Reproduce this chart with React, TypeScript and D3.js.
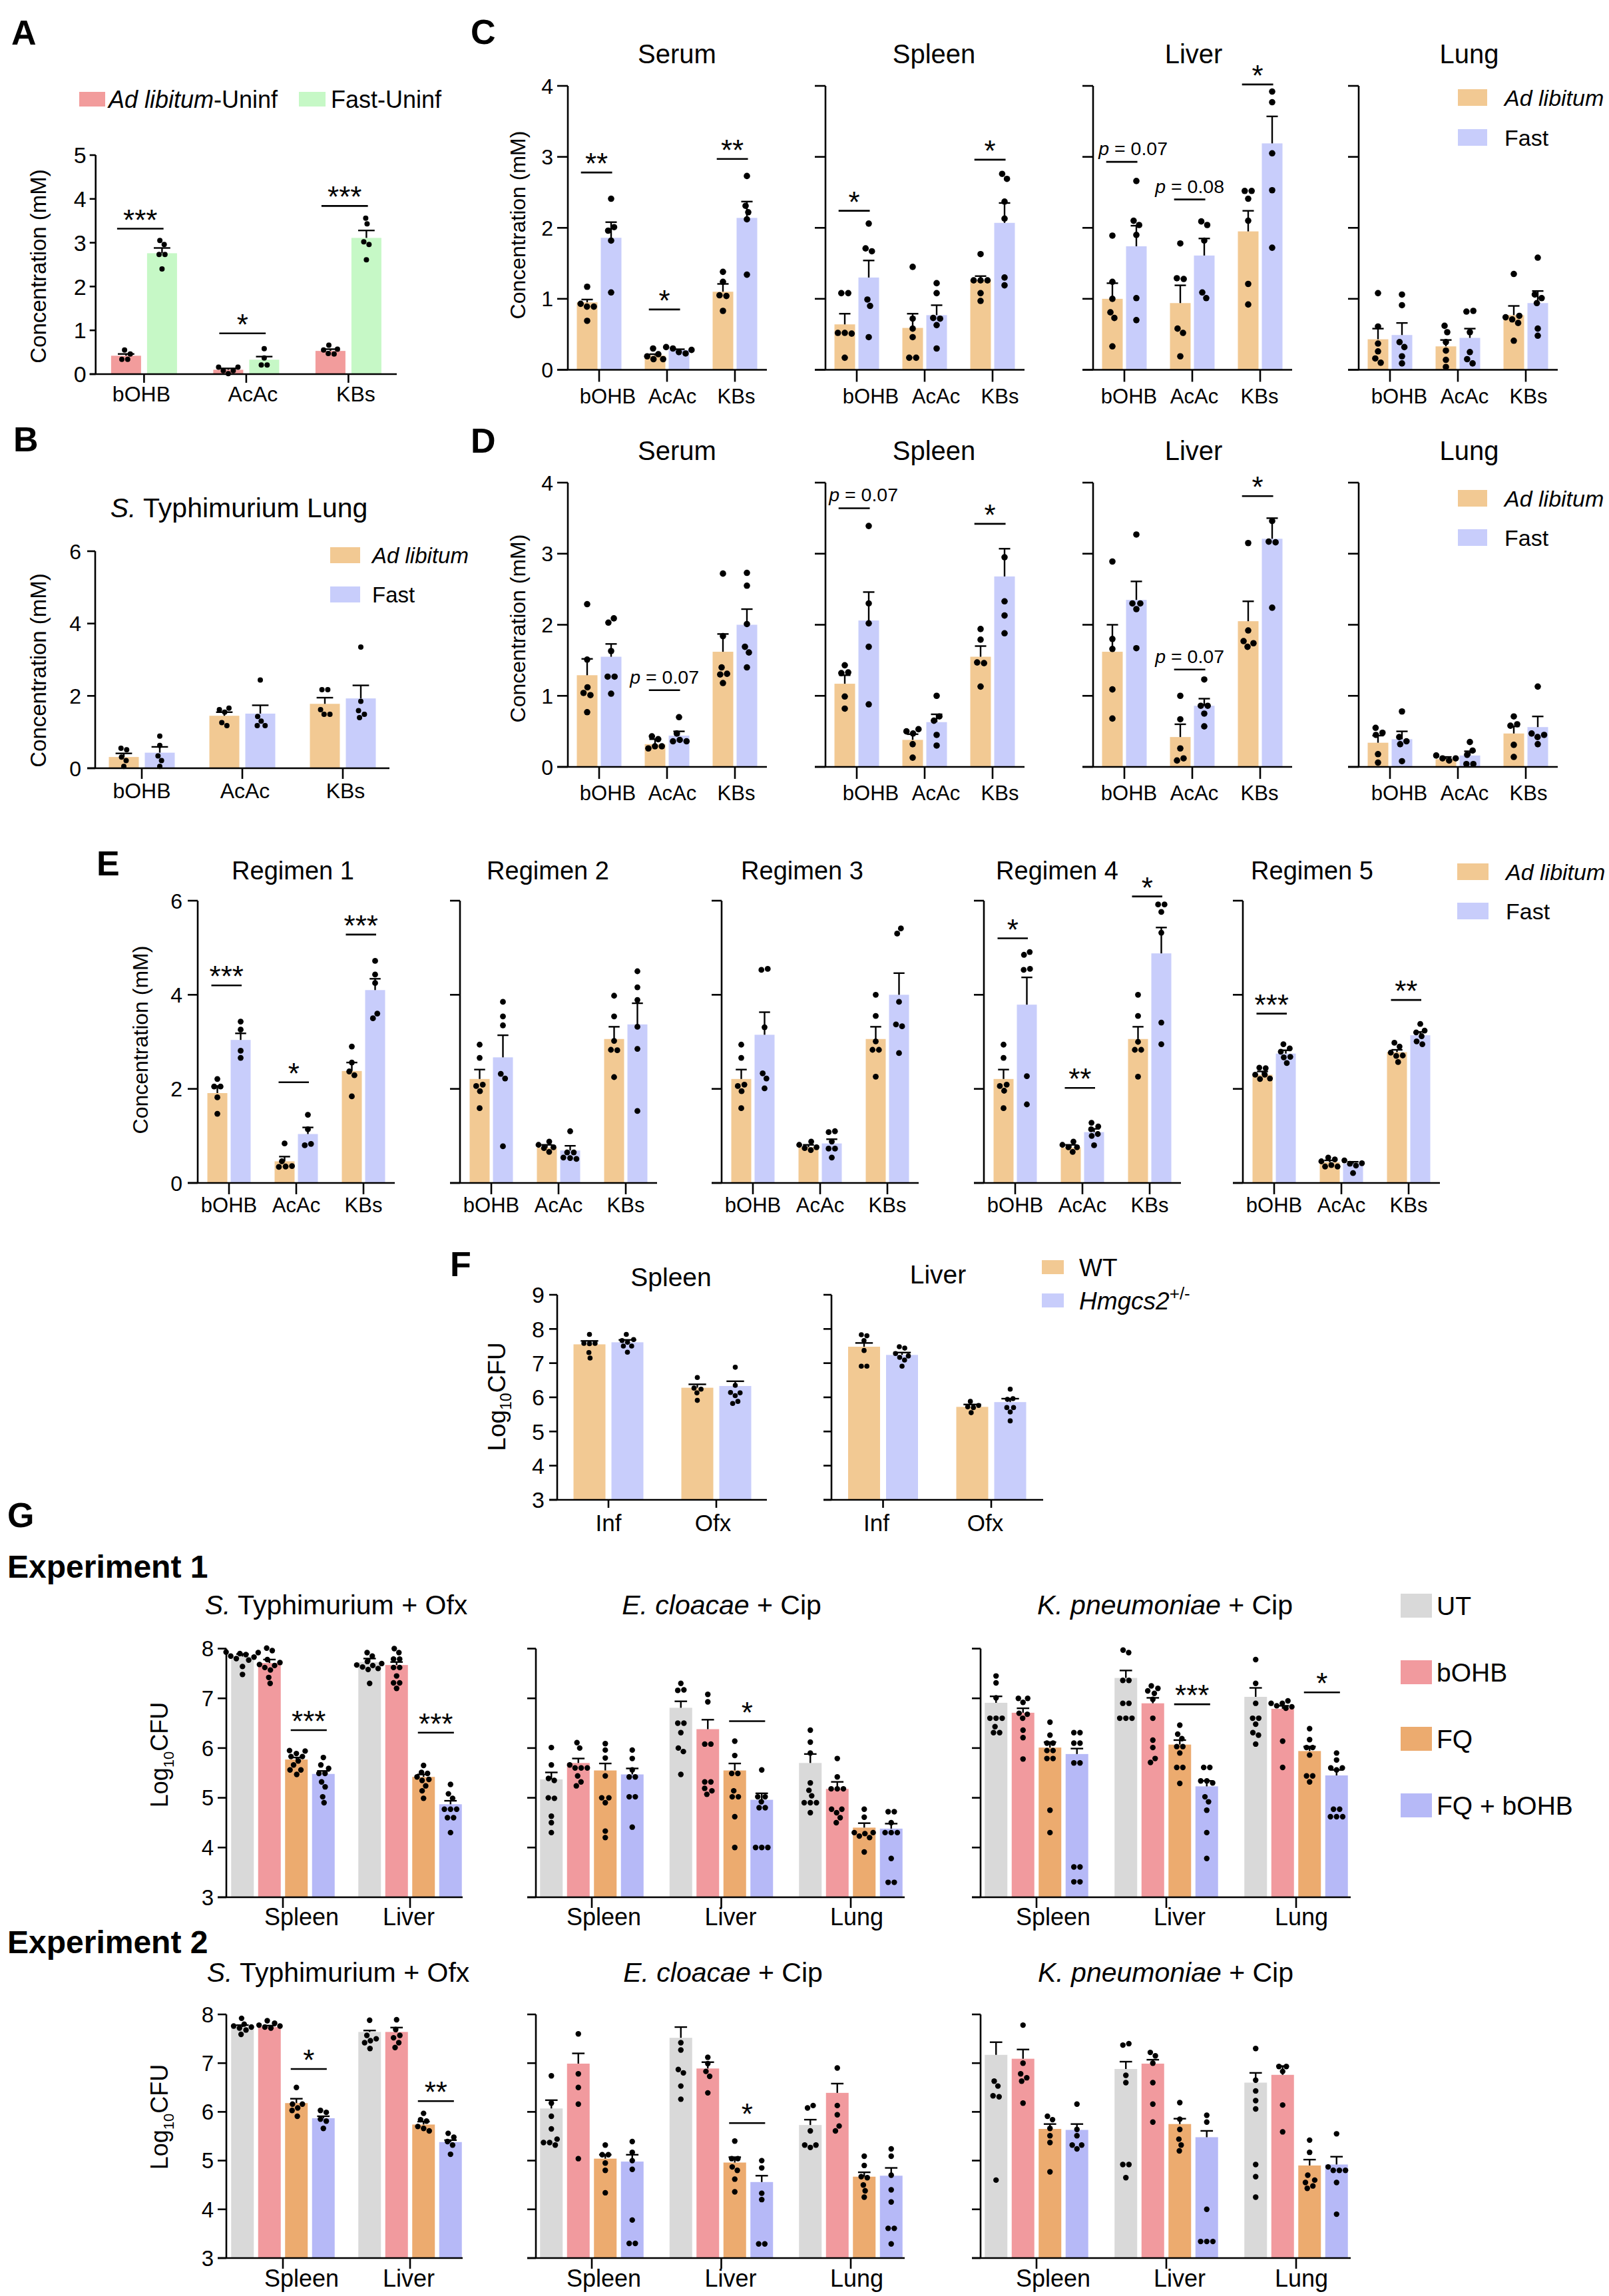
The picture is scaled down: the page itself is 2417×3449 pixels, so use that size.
import React from "react";
import * as d3 from "d3";

// [mean, sem, replicate values]
type Bar = [number, number, number[]];
type Sig = { cat: number; y: number; label: string; dx?: number };

const FONT = "'Liberation Sans', Arial, Helvetica, sans-serif";

const KETONES = ["bOHB", "AcAc", "KBs"];
const ORGANS2 = ["Spleen", "Liver"];
const ORGANS3 = ["Spleen", "Liver", "Lung"];
const F_CATS = ["Inf", "Ofx"];

const COL_AL_UNINF = "#F29C9C";
const COL_FAST_UNINF = "#C6F8C6";
const COL_ADLIB = "#F2C993";
const COL_FAST = "#C8CDFB";
const COL_UT = "#D9D9D9";
const COL_BOHB = "#F19A9E";
const COL_FQ = "#ECAB6F";
const COL_FQB = "#B6B9F7";

// ---------- Panel A: uninfected serum ----------
const A_ADLIB: Bar[] = [
  [0.42, 0.04, [0.34, 0.55, 0.46, 0.34]],
  [0.1, 0.03, [0.16, 0.16, 0.08, 0.08, 0.01]],
  [0.53, 0.04, [0.66, 0.57, 0.55, 0.46, 0.47]],
];
const A_FAST: Bar[] = [
  [2.76, 0.12, [3.05, 2.96, 2.73, 2.73, 2.4]],
  [0.33, 0.07, [0.58, 0.37, 0.21, 0.21]],
  [3.11, 0.17, [3.56, 3.43, 3.02, 2.96, 2.61]],
];
const A_SIG: Sig[] = [
  { cat: 0, y: 3.32, label: "***" },
  { cat: 1, y: 0.93, label: "*" },
  { cat: 2, y: 3.84, label: "***" },
];

// ---------- Panel B: S. Typhimurium lung ----------
const B_ADLIB: Bar[] = [
  [0.31, 0.1, [0.55, 0.51, 0.31, 0.21, 0.05]],
  [1.45, 0.1, [1.62, 1.66, 1.55, 1.26, 1.18]],
  [1.78, 0.17, [2.17, 2.17, 1.62, 1.49, 1.49]],
];
const B_FAST: Bar[] = [
  [0.43, 0.16, [0.89, 0.63, 0.34, 0.21, 0.05]],
  [1.51, 0.23, [2.44, 1.43, 1.18, 1.18, 1.3]],
  [1.93, 0.36, [3.35, 1.85, 1.59, 1.49, 1.4]],
];

// ---------- Panel C ----------
const C_SERUM_AL: Bar[] = [
  [0.95, 0.04, [1.17, 0.93, 0.89, 0.89, 0.69]],
  [0.2, 0.02, [0.3, 0.22, 0.19, 0.15, 0.15]],
  [1.1, 0.11, [1.38, 1.24, 1.05, 1.04, 0.83]],
];
const C_SERUM_FAST: Bar[] = [
  [1.86, 0.22, [2.41, 1.96, 2.01, 1.82, 1.09]],
  [0.28, 0.01, [0.32, 0.28, 0.3, 0.23, 0.25]],
  [2.14, 0.23, [2.73, 2.31, 2.22, 2.12, 1.34]],
];
const C_SERUM_SIG: Sig[] = [
  { cat: 0, y: 2.78, label: "**" },
  { cat: 1, y: 0.85, label: "*" },
  { cat: 2, y: 2.97, label: "**" },
];
const C_SPLEEN_AL: Bar[] = [
  [0.64, 0.15, [1.08, 1.08, 0.52, 0.51, 0.52, 0.17]],
  [0.59, 0.2, [1.45, 0.72, 0.58, 0.46, 0.17, 0.17]],
  [1.26, 0.06, [1.63, 1.26, 1.26, 1.26, 1.08, 0.97]],
];
const C_SPLEEN_FAST: Bar[] = [
  [1.3, 0.24, [2.06, 1.71, 1.67, 0.99, 0.9, 0.46]],
  [0.77, 0.14, [1.22, 1.08, 0.73, 0.72, 0.63, 0.3]],
  [2.07, 0.28, [2.76, 2.69, 2.37, 2.13, 1.3, 1.19]],
];
const C_SPLEEN_SIG: Sig[] = [
  { cat: 0, y: 2.24, label: "*" },
  { cat: 2, y: 2.96, label: "*" },
];
const C_LIVER_AL: Bar[] = [
  [1.0, 0.22, [1.89, 1.24, 1.0, 0.81, 0.73, 0.33]],
  [0.94, 0.25, [1.78, 1.29, 1.28, 0.58, 0.52, 0.19]],
  [1.95, 0.29, [2.52, 2.52, 2.41, 2.1, 1.21, 0.92]],
];
const C_LIVER_FAST: Bar[] = [
  [1.74, 0.29, [2.66, 2.1, 2.04, 1.9, 1.01, 0.7]],
  [1.61, 0.24, [2.09, 2.04, 1.82, 1.09, 1.01]],
  [3.19, 0.38, [3.92, 3.77, 3.05, 2.53, 1.72]],
];
const C_LIVER_SIG: Sig[] = [
  { cat: 0, y: 2.93, label: "p = 0.07", dx: 17 },
  { cat: 1, y: 2.4, label: "p = 0.08" },
  { cat: 2, y: 4.02, label: "*" },
];
const C_LUNG_AL: Bar[] = [
  [0.43, 0.15, [1.08, 0.61, 0.37, 0.26, 0.16, 0.1]],
  [0.33, 0.09, [0.62, 0.53, 0.39, 0.27, 0.14, 0.04]],
  [0.77, 0.13, [1.35, 0.74, 0.76, 0.71, 0.66, 0.41]],
];
const C_LUNG_FAST: Bar[] = [
  [0.49, 0.17, [1.06, 0.91, 0.39, 0.32, 0.19, 0.09]],
  [0.45, 0.13, [0.82, 0.83, 0.53, 0.25, 0.15, 0.09]],
  [0.94, 0.17, [1.58, 1.06, 1.01, 0.94, 0.58, 0.48]],
];

// ---------- Panel D ----------
const D_SERUM_AL: Bar[] = [
  [1.29, 0.23, [2.29, 1.51, 1.04, 1.01, 1.12, 0.77]],
  [0.32, 0.07, [0.43, 0.39, 0.26, 0.29, 0.29]],
  [1.62, 0.25, [2.72, 1.84, 1.4, 1.31, 1.3, 1.18]],
];
const D_SERUM_FAST: Bar[] = [
  [1.55, 0.18, [2.03, 2.09, 1.63, 1.27, 1.27, 1.03]],
  [0.44, 0.06, [0.7, 0.47, 0.36, 0.36, 0.38]],
  [2.0, 0.22, [2.73, 2.55, 2.01, 1.69, 1.61, 1.4]],
];
const D_SERUM_SIG: Sig[] = [{ cat: 1, y: 1.08, label: "p = 0.07" }];
const D_SPLEEN_AL: Bar[] = [
  [1.17, 0.12, [1.43, 1.32, 1.33, 0.99, 0.82]],
  [0.38, 0.08, [0.5, 0.53, 0.47, 0.32, 0.13]],
  [1.55, 0.15, [1.94, 1.79, 1.47, 1.46, 1.13]],
];
const D_SPLEEN_FAST: Bar[] = [
  [2.06, 0.4, [3.39, 2.3, 2.02, 1.69, 0.88]],
  [0.63, 0.11, [1.0, 0.65, 0.71, 0.45, 0.3]],
  [2.68, 0.39, [2.95, 2.33, 2.13, 1.88]],
];
const D_SPLEEN_SIG: Sig[] = [
  { cat: 0, y: 3.64, label: "p = 0.07", dx: 14 },
  { cat: 2, y: 3.42, label: "*" },
];
const D_LIVER_AL: Bar[] = [
  [1.62, 0.38, [2.89, 1.8, 1.66, 1.09, 0.68]],
  [0.42, 0.18, [1.0, 0.67, 0.26, 0.09, 0.12]],
  [2.05, 0.28, [3.15, 1.92, 1.77, 1.74, 1.69]],
];
const D_LIVER_FAST: Bar[] = [
  [2.35, 0.26, [3.27, 2.3, 2.3, 2.22, 1.67]],
  [0.86, 0.1, [1.23, 0.86, 0.86, 0.75, 0.57]],
  [3.21, 0.29, [3.46, 3.17, 3.16, 2.24]],
];
const D_LIVER_SIG: Sig[] = [
  { cat: 1, y: 1.37, label: "p = 0.07" },
  { cat: 2, y: 3.81, label: "*" },
];
const D_LUNG_AL: Bar[] = [
  [0.34, 0.1, [0.55, 0.48, 0.45, 0.18, 0.06]],
  [0.11, 0.03, [0.16, 0.12, 0.12, 0.09]],
  [0.47, 0.1, [0.71, 0.58, 0.6, 0.31, 0.14]],
];
const D_LUNG_FAST: Bar[] = [
  [0.39, 0.11, [0.78, 0.42, 0.36, 0.32, 0.08]],
  [0.16, 0.06, [0.35, 0.17, 0.23, 0.04, 0.04]],
  [0.56, 0.15, [1.13, 0.47, 0.45, 0.42, 0.32]],
];

// ---------- Panel E: fasting regimens ----------
const E_R1_AL: Bar[] = [
  [1.91, 0.15, [2.21, 2.05, 2.05, 1.82, 1.47]],
  [0.46, 0.1, [0.84, 0.46, 0.36, 0.34, 0.35]],
  [2.38, 0.18, [2.9, 2.56, 2.37, 2.29, 1.84]],
];
const E_R1_FAST: Bar[] = [
  [3.04, 0.14, [3.43, 3.26, 2.81, 2.66]],
  [1.04, 0.14, [1.45, 1.14, 0.8, 0.83]],
  [4.1, 0.24, [4.72, 4.43, 4.25, 3.5, 3.6]],
];
const E_R1_SIG: Sig[] = [
  { cat: 0, y: 4.2, label: "***" },
  { cat: 1, y: 2.14, label: "*" },
  { cat: 2, y: 5.28, label: "***" },
];
const E_R2_AL: Bar[] = [
  [2.21, 0.2, [2.94, 2.66, 2.06, 2.09, 1.95, 1.59]],
  [0.75, 0.06, [0.81, 0.88, 0.76, 0.74, 0.66]],
  [3.06, 0.26, [3.98, 3.54, 3.02, 2.83, 2.82, 2.25]],
];
const E_R2_FAST: Bar[] = [
  [2.67, 0.47, [3.85, 3.54, 3.35, 2.32, 2.22, 0.78]],
  [0.69, 0.1, [1.1, 0.65, 0.65, 0.54, 0.51, 0.53]],
  [3.37, 0.45, [4.5, 4.16, 3.89, 3.32, 2.85, 1.53]],
];
const E_R3_AL: Bar[] = [
  [2.21, 0.2, [2.94, 2.66, 2.06, 2.09, 1.95, 1.59]],
  [0.76, 0.05, [0.81, 0.88, 0.76, 0.74, 0.7]],
  [3.06, 0.26, [4.0, 3.55, 3.01, 2.83, 2.83, 2.26]],
];
const E_R3_FAST: Bar[] = [
  [3.15, 0.48, [4.53, 4.55, 3.31, 2.33, 2.22, 2.01]],
  [0.84, 0.09, [1.08, 1.1, 0.88, 0.73, 0.73, 0.54]],
  [4.0, 0.46, [5.3, 5.41, 3.85, 3.37, 3.33, 2.76]],
];
const E_R4_AL: Bar[] = [
  [2.21, 0.2, [2.94, 2.66, 2.06, 2.09, 1.96, 1.59]],
  [0.75, 0.06, [0.81, 0.88, 0.76, 0.76, 0.66]],
  [3.06, 0.26, [4.0, 3.55, 3.0, 2.83, 2.83, 2.26]],
];
const E_R4_FAST: Bar[] = [
  [3.79, 0.58, [4.85, 4.91, 4.53, 4.55, 2.27, 1.67]],
  [1.08, 0.07, [1.28, 1.2, 1.14, 1.0, 1.04, 0.8]],
  [4.88, 0.55, [5.92, 5.92, 5.76, 5.32, 3.41, 2.95]],
];
const E_R4_SIG: Sig[] = [
  { cat: 0, y: 5.2, label: "*" },
  { cat: 1, y: 2.02, label: "**" },
  { cat: 2, y: 6.09, label: "*" },
];
const E_R5_AL: Bar[] = [
  [2.3, 0.07, [2.45, 2.44, 2.3, 2.22, 2.21, 2.3]],
  [0.44, 0.04, [0.54, 0.5, 0.46, 0.35, 0.35, 0.38]],
  [2.78, 0.05, [2.98, 2.9, 2.77, 2.71, 2.7, 2.57]],
];
const E_R5_FAST: Bar[] = [
  [2.75, 0.07, [2.95, 2.86, 2.79, 2.68, 2.67, 2.55]],
  [0.41, 0.04, [0.48, 0.42, 0.41, 0.21, 0.37]],
  [3.14, 0.07, [3.38, 3.2, 3.24, 3.12, 3.01, 2.95]],
];
const E_R5_SIG: Sig[] = [
  { cat: 0, y: 3.6, label: "***" },
  { cat: 2, y: 3.89, label: "**" },
];

// ---------- Panel F: WT vs Hmgcs2+/- ----------
const F_SPLEEN_WT: Bar[] = [
  [7.55, 0.1, [7.84, 7.58, 7.58, 7.57, 7.31, 7.15]],
  [6.28, 0.1, [6.58, 6.27, 6.24, 6.13, 5.91]],
];
const F_SPLEEN_KO: Bar[] = [
  [7.61, 0.07, [7.84, 7.69, 7.66, 7.61, 7.5, 7.5, 7.32]],
  [6.33, 0.14, [6.88, 6.35, 6.14, 6.13, 6.05, 5.82, 5.88]],
];
const F_LIVER_WT: Bar[] = [
  [7.48, 0.11, [7.83, 7.8, 7.66, 7.37, 6.91, 6.91]],
  [5.72, 0.07, [5.88, 5.76, 5.72, 5.55, 5.7]],
];
const F_LIVER_KO: Bar[] = [
  [7.24, 0.07, [7.48, 7.44, 7.28, 7.21, 7.17, 7.09, 6.91]],
  [5.86, 0.1, [6.24, 5.94, 5.96, 5.7, 5.7, 5.57, 5.31]],
];

// ---------- Panel G, experiment 1 ----------
const G1_ST_UT: Bar[] = [
  [7.84, 0.05, [7.93, 7.92, 7.9, 7.88, 7.85, 7.83, 7.8, 7.77, 7.64, 7.48]],
  [7.73, 0.07, [7.92, 7.85, 7.74, 7.7, 7.67, 7.66, 7.63, 7.6, 7.58, 7.3]],
];
const G1_ST_BOHB: Bar[] = [
  [7.71, 0.07, [8.01, 7.96, 7.78, 7.72, 7.68, 7.66, 7.62, 7.57, 7.42, 7.3]],
  [7.67, 0.06, [8.0, 7.92, 7.79, 7.79, 7.62, 7.62, 7.45, 7.31, 7.31, 7.2]],
];
const G1_ST_FQ: Bar[] = [
  [5.77, 0.04, [5.95, 5.94, 5.89, 5.83, 5.83, 5.74, 5.66, 5.56, 5.56, 5.47]],
  [5.42, 0.05, [5.65, 5.51, 5.49, 5.42, 5.37, 5.35, 5.24, 5.14, 4.99]],
];
const G1_ST_FQB: Bar[] = [
  [5.48, 0.06, [5.81, 5.66, 5.59, 5.49, 5.49, 5.32, 5.22, 5.02, 4.9]],
  [4.87, 0.07, [5.27, 5.08, 4.99, 4.77, 4.77, 4.77, 4.6, 4.6, 4.3]],
];
const G1_ST_SIG: Sig[] = [
  { cat: 0, y: 6.36, label: "***" },
  { cat: 1, y: 6.31, label: "***" },
];
const G1_EC_UT: Bar[] = [
  [5.37, 0.14, [6.01, 5.66, 5.39, 5.35, 5.0, 4.99, 4.63, 4.5, 4.3]],
  [6.81, 0.13, [7.3, 7.16, 7.17, 6.5, 6.5, 6.31, 6.0, 5.93, 5.47]],
  [5.7, 0.18, [6.36, 6.12, 5.9, 5.3, 5.15, 5.04, 4.9, 4.9, 4.9, 4.7]],
];
const G1_EC_BOHB: Bar[] = [
  [5.7, 0.09, [6.11, 6.0, 5.66, 5.6, 5.6, 5.6, 5.44, 5.32, 5.24]],
  [6.38, 0.19, [7.08, 6.93, 6.08, 6.08, 5.32, 5.32, 5.19, 5.07, 5.14]],
  [5.18, 0.14, [5.79, 5.42, 5.18, 5.18, 5.18, 4.77, 4.77, 4.7, 4.5, 4.6]],
];
const G1_EC_FQ: Bar[] = [
  [5.55, 0.14, [6.09, 5.96, 5.8, 5.44, 5.0, 5.0, 4.9, 4.33, 4.2]],
  [5.55, 0.14, [6.14, 5.85, 5.49, 5.49, 5.14, 5.02, 5.02, 4.62, 4.0]],
  [4.4, 0.09, [4.77, 4.61, 4.3, 4.3, 4.23, 4.2, 3.91, 4.28]],
];
const G1_EC_FQB: Bar[] = [
  [5.47, 0.12, [5.96, 5.79, 5.56, 5.42, 5.42, 5.02, 5.02, 4.41]],
  [4.96, 0.13, [5.56, 5.02, 5.02, 4.92, 4.8, 4.8, 4.0, 4.0, 4.0]],
  [4.38, 0.1, [4.72, 4.72, 4.5, 4.3, 4.3, 4.3, 3.78, 3.3, 3.3]],
];
const G1_EC_SIG: Sig[] = [{ cat: 1, y: 6.54, label: "*" }];
const G1_KP_UT: Bar[] = [
  [6.91, 0.13, [7.45, 7.31, 7.01, 6.6, 6.6, 6.6, 6.43, 6.31, 6.31]],
  [7.41, 0.15, [7.97, 7.92, 7.36, 7.36, 6.9, 6.9, 6.6, 6.6, 6.6]],
  [7.03, 0.18, [7.78, 7.3, 6.9, 6.6, 6.6, 6.48, 6.31, 6.26, 6.08]],
];
const G1_KP_BOHB: Bar[] = [
  [6.71, 0.09, [7.0, 7.0, 6.92, 6.7, 6.68, 6.6, 6.36, 6.21, 5.78]],
  [6.9, 0.11, [7.25, 7.2, 7.15, 7.1, 6.98, 6.6, 6.16, 6.01, 5.71, 5.79]],
  [6.79, 0.06, [6.9, 6.95, 6.9, 6.83, 6.85, 6.8, 6.14, 5.61]],
];
const G1_KP_FQ: Bar[] = [
  [6.01, 0.11, [6.52, 6.26, 6.1, 6.1, 5.95, 5.95, 5.79, 5.79, 4.75, 4.3]],
  [6.07, 0.09, [6.46, 6.28, 6.19, 6.03, 6.03, 5.9, 5.61, 5.61, 5.29]],
  [5.94, 0.09, [6.39, 6.17, 6.01, 6.01, 5.86, 5.44, 5.44, 5.32]],
];
const G1_KP_FQB: Bar[] = [
  [5.88, 0.11, [6.31, 6.31, 6.1, 6.1, 5.7, 5.7, 3.61, 3.61, 3.31, 3.31]],
  [5.23, 0.11, [5.61, 5.61, 5.34, 5.3, 5.34, 5.02, 4.92, 4.75, 4.3, 3.78]],
  [5.45, 0.11, [5.9, 5.76, 5.6, 5.6, 5.56, 4.77, 4.77, 4.62, 4.62, 4.62]],
];
const G1_KP_SIG: Sig[] = [
  { cat: 1, y: 6.88, label: "***" },
  { cat: 2, y: 7.12, label: "*" },
];

// ---------- Panel G, experiment 2 ----------
const G2_ST_UT: Bar[] = [
  [7.74, 0.04, [7.92, 7.8, 7.76, 7.74, 7.72, 7.68, 7.59]],
  [7.64, 0.03, [7.88, 7.57, 7.5, 7.42, 7.3, 7.46]],
];
const G2_ST_BOHB: Bar[] = [
  [7.74, 0.03, [7.87, 7.82, 7.78, 7.76, 7.74, 7.72]],
  [7.64, 0.09, [7.89, 7.69, 7.57, 7.52, 7.42, 7.32]],
];
const G2_ST_FQ: Bar[] = [
  [6.18, 0.09, [6.5, 6.16, 6.16, 6.03, 5.91, 6.08]],
  [5.74, 0.06, [5.97, 5.84, 5.81, 5.7, 5.61, 5.66]],
];
const G2_ST_FQB: Bar[] = [
  [5.87, 0.04, [6.03, 5.99, 5.85, 5.81, 5.66]],
  [5.38, 0.04, [5.56, 5.48, 5.39, 5.32, 5.13]],
];
const G2_ST_SIG: Sig[] = [
  { cat: 0, y: 6.88, label: "*" },
  { cat: 1, y: 6.22, label: "**" },
];
const G2_EC_UT: Bar[] = [
  [6.07, 0.17, [6.74, 6.18, 5.91, 5.65, 5.37, 5.44, 5.32, 5.37]],
  [7.52, 0.22, [7.42, 7.27, 6.87, 6.8, 6.53, 6.26]],
  [5.73, 0.11, [6.08, 6.13, 5.61, 5.32, 5.32, 5.27]],
];
const G2_EC_BOHB: Bar[] = [
  [6.99, 0.21, [7.6, 6.78, 6.5, 6.16, 5.04]],
  [6.89, 0.13, [7.12, 6.99, 6.83, 6.73, 6.39]],
  [6.39, 0.19, [6.9, 6.13, 5.94, 5.61, 5.71]],
];
const G2_EC_FQ: Bar[] = [
  [5.04, 0.08, [5.32, 5.12, 5.12, 4.95, 4.8, 4.34]],
  [4.96, 0.11, [5.4, 5.04, 5.04, 4.87, 4.8, 4.62, 4.36]],
  [4.67, 0.09, [5.09, 4.9, 4.67, 4.65, 4.5, 4.38, 4.25]],
];
const G2_EC_FQB: Bar[] = [
  [4.98, 0.14, [5.39, 5.17, 5.0, 4.82, 3.78, 3.3, 3.3]],
  [4.56, 0.13, [5.0, 4.85, 4.33, 4.2, 3.29, 3.29]],
  [4.69, 0.16, [5.24, 5.09, 4.7, 4.4, 4.15, 3.61, 3.61, 3.29]],
];
const G2_EC_SIG: Sig[] = [{ cat: 1, y: 5.77, label: "*" }];
const G2_KP_UT: Bar[] = [
  [7.17, 0.26, [6.63, 6.33, 6.31, 6.53, 4.6]],
  [6.88, 0.15, [7.37, 7.4, 6.75, 6.6, 4.92, 4.92, 4.65]],
  [6.6, 0.2, [7.3, 6.65, 6.43, 6.23, 6.06, 4.92, 4.67, 4.25]],
];
const G2_KP_BOHB: Bar[] = [
  [7.09, 0.19, [7.78, 7.0, 6.78, 6.7, 6.63, 6.18]],
  [6.99, 0.08, [7.22, 7.15, 7.0, 6.6, 6.16, 5.79]],
  [6.76, 0.18, [6.93, 6.93, 6.83, 6.14, 5.59]],
];
const G2_KP_FQ: Bar[] = [
  [5.65, 0.1, [5.91, 5.84, 5.66, 5.51, 5.37, 4.77]],
  [5.75, 0.11, [6.19, 5.85, 5.64, 5.44, 5.32, 5.2]],
  [4.9, 0.12, [5.42, 5.17, 4.7, 4.6, 4.55, 4.43, 4.48]],
];
const G2_KP_FQB: Bar[] = [
  [5.63, 0.12, [6.16, 5.64, 5.51, 5.32, 5.32, 5.24]],
  [5.48, 0.13, [5.93, 5.79, 4.0, 3.34, 3.34, 3.34]],
  [4.92, 0.16, [5.55, 4.87, 4.8, 4.8, 4.8, 4.55, 3.9]],
];

// ---------- drawing helpers ----------
const AXW = 2.6;

// spread replicate dots sideways so they do not overlap
function dodge(py: number[], r: number): number[] {
  const n = py.length;
  const dx = new Array(n).fill(0);
  const D = 2 * r + 0.8;
  for (let it = 0; it < 120; it++) {
    let moved = false;
    for (let i = 0; i < n; i++) {
      for (let j = i + 1; j < n; j++) {
        const dy = py[i] - py[j];
        if (Math.abs(dy) >= D) continue;
        const need = Math.sqrt(D * D - dy * dy);
        const sep = dx[j] - dx[i];
        if (Math.abs(sep) < need - 0.01) {
          const dir = sep === 0 ? 1 : Math.sign(sep);
          const push = (need - Math.abs(sep)) / 2;
          dx[i] -= dir * push;
          dx[j] += dir * push;
          moved = true;
        }
      }
    }
    if (!moved) break;
  }
  return dx;
}

interface PanelProps {
  axisX: number;
  xEnd: number;
  y0: number;
  y1: number;
  domain: [number, number];
  ticks: number[];
  tickLabels?: boolean;
  tickLen?: number;
  tickPad?: number;
  tickFont?: number;
  cats: string[];
  catDx?: number[];
  firstCat: number;
  catStep: number;
  catTick?: number;
  catOff: number;
  catFont: number;
  barW: number;
  gap: number;
  colors: string[];
  series: Bar[][];
  r: number;
  sig?: Sig[];
  sigPair?: [number, number];
  sigSpan?: [number, number];
  starFont?: number;
  pFont?: number;
}

function BarPanel(p: PanelProps) {
  const tickLen = p.tickLen ?? 14;
  const tickPad = p.tickPad ?? 6;
  const catTick = p.catTick ?? 16;
  const y = d3.scaleLinear().domain(p.domain).range([p.y0, p.y1]);
  const x = d3
    .scalePoint<string>()
    .domain(p.cats)
    .range([p.axisX + p.firstCat, p.axisX + p.firstCat + p.catStep * (p.cats.length - 1)]);
  const nS = p.series.length;
  const half = (nS * p.barW + (nS - 1) * p.gap) / 2;
  const inner = d3
    .scaleBand<number>()
    .domain(d3.range(nS))
    .range([-half, half])
    .paddingInner(p.gap / (p.barW + p.gap));
  const bw = inner.bandwidth();
  const base = y(p.domain[0]);
  const cx = (c: number, s: number) => (x(p.cats[c]) as number) + (inner(s) as number) + bw / 2;
  const [sa, sb] = p.sigPair ?? [0, 1];
  const [spA, spB] = p.sigSpan ?? [-0.3, 0.05];
  const capW = bw * 0.55;

  return (
    <g>
      {p.series.map((ser, s) =>
        ser.map((b, c) => (
          <rect
            key={`bar${s}-${c}`}
            x={cx(c, s) - bw / 2}
            y={y(b[0])}
            width={bw}
            height={base - y(b[0])}
            fill={p.colors[s]}
          />
        ))
      )}
      {p.series.map((ser, s) =>
        ser.map((b, c) => {
          const X = cx(c, s);
          const top = y(b[0] + b[1]);
          return (
            <g key={`err${s}-${c}`} stroke="#000" strokeWidth={2.4}>
              <line x1={X} x2={X} y1={y(b[0])} y2={top} />
              <line x1={X - capW / 2} x2={X + capW / 2} y1={top} y2={top} />
            </g>
          );
        })
      )}
      {p.series.map((ser, s) =>
        ser.map((b, c) => {
          const X = cx(c, s);
          const py = b[2].map((v) => y(v));
          const dx = dodge(py, p.r);
          return (
            <g key={`pts${s}-${c}`} fill="#000">
              {py.map((yy, k) => (
                <circle key={k} cx={X + dx[k]} cy={yy} r={p.r} />
              ))}
            </g>
          );
        })
      )}
      <line x1={p.axisX} x2={p.axisX} y1={y(p.domain[1])} y2={base} stroke="#000" strokeWidth={AXW} />
      <line x1={p.axisX - tickLen} x2={p.xEnd} y1={base} y2={base} stroke="#000" strokeWidth={AXW} />
      {p.ticks.map((t) => (
        <g key={`t${t}`}>
          <line x1={p.axisX - tickLen} x2={p.axisX} y1={y(t)} y2={y(t)} stroke="#000" strokeWidth={AXW} />
          {p.tickLabels && (
            <text
              x={p.axisX - tickLen - tickPad}
              y={y(t)}
              dy="0.36em"
              textAnchor="end"
              fontSize={p.tickFont ?? 32}
            >
              {t}
            </text>
          )}
        </g>
      ))}
      {p.cats.map((c, ci) => (
        <g key={`c${c}`}>
          <line
            x1={x(c) as number}
            x2={x(c) as number}
            y1={base}
            y2={base + catTick}
            stroke="#000"
            strokeWidth={AXW}
          />
          <text
            x={(x(c) as number) + (p.catDx ? p.catDx[ci] : 0)}
            y={base + p.catOff}
            textAnchor="middle"
            fontSize={p.catFont}
          >
            {c}
          </text>
        </g>
      ))}
      {(p.sig ?? []).map((sg, k) => {
        const xa = cx(sg.cat, sa) + spA * bw;
        const xb = cx(sg.cat, sb) + spB * bw;
        const ly = y(sg.y);
        const mid = (xa + xb) / 2 + (sg.dx ?? 0);
        const isP = sg.label.startsWith("p");
        return (
          <g key={`sig${k}`}>
            <line x1={xa} x2={xb} y1={ly} y2={ly} stroke="#000" strokeWidth={AXW} />
            {isP ? (
              <text x={mid} y={ly - 10} textAnchor="middle" fontSize={p.pFont ?? 28.5}>
                <tspan fontStyle="italic">p</tspan>
                {sg.label.slice(1)}
              </text>
            ) : (
              <text x={mid} y={ly + 2} textAnchor="middle" fontSize={p.starFont ?? 44}>
                {sg.label}
              </text>
            )}
          </g>
        );
      })}
    </g>
  );
}

function YLabel({ x, y, size, children }: { x: number; y: number; size: number; children: React.ReactNode }) {
  return (
    <text transform={`translate(${x},${y}) rotate(-90)`} textAnchor="middle" fontSize={size}>
      {children}
    </text>
  );
}

function Legend({
  x,
  ys,
  w,
  h,
  colors,
  labels,
  tx,
  size,
}: {
  x: number;
  ys: number[];
  w: number;
  h: number;
  colors: string[];
  labels: React.ReactNode[];
  tx: number;
  size: number;
}) {
  return (
    <g>
      {ys.map((yy, i) => (
        <g key={i}>
          <rect x={x} y={yy} width={w} height={h} fill={colors[i]} />
          <text x={tx} y={yy + h / 2} dy="0.36em" fontSize={size}>
            {labels[i]}
          </text>
        </g>
      ))}
    </g>
  );
}

const CAX = [853, 1240, 1642, 2041];
const C_LABEL_DX = [
  [13, 8, 2],
  [21, 17, 11],
  [7, 3, -1],
  [14, 10, 4],
];
const EAX = [297, 691, 1084, 1478, 1867];
const GAX = [340, 805, 1473];
const GEND = [695, 1359, 2029];
const GFIRST = [85, 84, 84];
const GSTEP = [191, 194.5, 195];
const G_LABEL_DX = [
  [28, -2],
  [18, 14, 9],
  [25, 20, 8],
];

export default function App() {
  const twoCols = [COL_ADLIB, COL_FAST];
  const gCols = [COL_UT, COL_BOHB, COL_FQ, COL_FQB];

  const cSets: [Bar[], Bar[], Sig[] | undefined][] = [
    [C_SERUM_AL, C_SERUM_FAST, C_SERUM_SIG],
    [C_SPLEEN_AL, C_SPLEEN_FAST, C_SPLEEN_SIG],
    [C_LIVER_AL, C_LIVER_FAST, C_LIVER_SIG],
    [C_LUNG_AL, C_LUNG_FAST, undefined],
  ];
  const dSets: [Bar[], Bar[], Sig[] | undefined][] = [
    [D_SERUM_AL, D_SERUM_FAST, D_SERUM_SIG],
    [D_SPLEEN_AL, D_SPLEEN_FAST, D_SPLEEN_SIG],
    [D_LIVER_AL, D_LIVER_FAST, D_LIVER_SIG],
    [D_LUNG_AL, D_LUNG_FAST, undefined],
  ];
  const eSets: [Bar[], Bar[], Sig[] | undefined][] = [
    [E_R1_AL, E_R1_FAST, E_R1_SIG],
    [E_R2_AL, E_R2_FAST, undefined],
    [E_R3_AL, E_R3_FAST, undefined],
    [E_R4_AL, E_R4_FAST, E_R4_SIG],
    [E_R5_AL, E_R5_FAST, E_R5_SIG],
  ];
  const organTitles = ["Serum", "Spleen", "Liver", "Lung"];
  const organTitleX = [1017, 1403, 1793, 2207];
  const regimenX = [440, 823, 1205, 1588, 1971];

  const g1: [Bar[][], Sig[] | undefined, string[]][] = [
    [[G1_ST_UT, G1_ST_BOHB, G1_ST_FQ, G1_ST_FQB], G1_ST_SIG, ORGANS2],
    [[G1_EC_UT, G1_EC_BOHB, G1_EC_FQ, G1_EC_FQB], G1_EC_SIG, ORGANS3],
    [[G1_KP_UT, G1_KP_BOHB, G1_KP_FQ, G1_KP_FQB], G1_KP_SIG, ORGANS3],
  ];
  const g2: [Bar[][], Sig[] | undefined, string[]][] = [
    [[G2_ST_UT, G2_ST_BOHB, G2_ST_FQ, G2_ST_FQB], G2_ST_SIG, ORGANS2],
    [[G2_EC_UT, G2_EC_BOHB, G2_EC_FQ, G2_EC_FQB], G2_EC_SIG, ORGANS3],
    [[G2_KP_UT, G2_KP_BOHB, G2_KP_FQ, G2_KP_FQB], undefined, ORGANS3],
  ];
  const gTitle = (i: number) =>
    i === 0 ? (
      <>
        <tspan fontStyle="italic">S.</tspan> Typhimurium + Ofx
      </>
    ) : i === 1 ? (
      <>
        <tspan fontStyle="italic">E. cloacae</tspan> + Cip
      </>
    ) : (
      <>
        <tspan fontStyle="italic">K. pneumoniae</tspan> + Cip
      </>
    );
  const gTitleX1 = [505, 1084, 1750];
  const gTitleX2 = [508, 1086, 1751];

  const logLabel = (sub: number, shift: number) => (
    <>
      Log
      <tspan dy={shift} fontSize={sub}>
        10
      </tspan>
      <tspan dy={-shift}>CFU</tspan>
    </>
  );

  return (
    <svg
      width={2417}
      height={3449}
      viewBox="0 0 2417 3449"
      style={{ position: "absolute", left: 0, top: 0, background: "#fff" }}
      fontFamily={FONT}
    >
      <rect x={0} y={0} width={2417} height={3449} fill="#fff" />

      {/* panel letters */}
      <g fontWeight="bold" fontSize={52}>
        <text x={17} y={67}>A</text>
        <text x={20} y={678}>B</text>
        <text x={707} y={66}>C</text>
        <text x={707} y={680}>D</text>
        <text x={145} y={1315}>E</text>
        <text x={676} y={1917}>F</text>
        <text x={11} y={2294}>G</text>
      </g>

      {/* ---------- A ---------- */}
      <Legend
        x={119}
        ys={[138]}
        w={39}
        h={22}
        colors={[COL_AL_UNINF]}
        labels={[
          <>
            <tspan fontStyle="italic">Ad libitum</tspan>-Uninf
          </>,
        ]}
        tx={163}
        size={36}
      />
      <Legend x={449} ys={[138]} w={40} h={22} colors={[COL_FAST_UNINF]} labels={["Fast-Uninf"]} tx={497} size={36} />
      <BarPanel
        axisX={143.7}
        xEnd={596}
        y0={562}
        y1={233}
        domain={[0, 5]}
        ticks={[0, 1, 2, 3, 4, 5]}
        tickLabels
        tickLen={9}
        tickPad={5}
        tickFont={34}
        cats={KETONES}
        catDx={[-4, 10, 11]}
        firstCat={72.7}
        catStep={153.5}
        catTick={13}
        catOff={41}
        catFont={32}
        barW={45}
        gap={9}
        colors={[COL_AL_UNINF, COL_FAST_UNINF]}
        series={[A_ADLIB, A_FAST]}
        r={4}
        sig={A_SIG}
      />
      <YLabel x={69} y={400} size={33}>Concentration (mM)</YLabel>

      {/* ---------- B ---------- */}
      <text x={359} y={777} textAnchor="middle" fontSize={41}>
        <tspan fontStyle="italic">S.</tspan> Typhimurium Lung
      </text>
      <Legend
        x={496}
        ys={[822, 881]}
        w={45}
        h={24}
        colors={twoCols}
        labels={[<tspan fontStyle="italic">Ad libitum</tspan>, "Fast"]}
        tx={559}
        size={33}
      />
      <BarPanel
        axisX={143}
        xEnd={585}
        y0={1154}
        y1={828}
        domain={[0, 6]}
        ticks={[0, 2, 4, 6]}
        tickLabels
        tickLen={12}
        tickPad={9}
        tickFont={32}
        cats={KETONES}
        catDx={[0, 4, 4]}
        firstCat={70}
        catStep={151}
        catOff={45}
        catFont={32}
        barW={45}
        gap={9}
        colors={twoCols}
        series={[B_ADLIB, B_FAST]}
        r={4}
      />
      <YLabel x={69} y={1007} size={33}>Concentration (mM)</YLabel>

      {/* ---------- C ---------- */}
      {cSets.map(([al, fa, sg], i) => (
        <g key={`C${i}`}>
          <text x={organTitleX[i]} y={95} textAnchor="middle" fontSize={40}>
            {organTitles[i]}
          </text>
          <BarPanel
            axisX={CAX[i]}
            xEnd={CAX[i] + 299}
            y0={555.5}
            y1={129}
            domain={[0, 4]}
            ticks={[0, 1, 2, 3, 4]}
            tickLabels={i === 0}
            tickLen={16}
            tickPad={6}
            tickFont={32}
            cats={KETONES}
            catDx={C_LABEL_DX[i]}
            firstCat={47}
            catStep={102}
            catTick={18}
            catOff={50}
            catFont={31}
            barW={31}
            gap={5}
            colors={twoCols}
            series={[al, fa]}
            r={4.8}
            sig={sg}
          />
        </g>
      ))}
      <YLabel x={789} y={338} size={32}>Concentration (mM)</YLabel>
      <Legend
        x={2190}
        ys={[134, 194]}
        w={44}
        h={25}
        colors={twoCols}
        labels={[<tspan fontStyle="italic">Ad libitum</tspan>, "Fast"]}
        tx={2260}
        size={34}
      />

      {/* ---------- D ---------- */}
      {dSets.map(([al, fa, sg], i) => (
        <g key={`D${i}`}>
          <text x={organTitleX[i]} y={691} textAnchor="middle" fontSize={40}>
            {organTitles[i]}
          </text>
          <BarPanel
            axisX={CAX[i]}
            xEnd={CAX[i] + 299}
            y0={1152}
            y1={725}
            domain={[0, 4]}
            ticks={[0, 1, 2, 3, 4]}
            tickLabels={i === 0}
            tickLen={16}
            tickPad={6}
            tickFont={32}
            cats={KETONES}
            catDx={C_LABEL_DX[i]}
            firstCat={47}
            catStep={102}
            catTick={18}
            catOff={50}
            catFont={31}
            barW={31}
            gap={5}
            colors={twoCols}
            series={[al, fa]}
            r={4.8}
            sig={sg}
          />
        </g>
      ))}
      <YLabel x={789} y={944} size={32}>Concentration (mM)</YLabel>
      <Legend
        x={2190}
        ys={[736, 795]}
        w={44}
        h={25}
        colors={twoCols}
        labels={[<tspan fontStyle="italic">Ad libitum</tspan>, "Fast"]}
        tx={2260}
        size={34}
      />

      {/* ---------- E ---------- */}
      {eSets.map(([al, fa, sg], i) => (
        <g key={`E${i}`}>
          <text x={regimenX[i]} y={1321} textAnchor="middle" fontSize={38}>
            {`Regimen ${i + 1}`}
          </text>
          <BarPanel
            axisX={EAX[i]}
            xEnd={EAX[i] + 296}
            y0={1777}
            y1={1353}
            domain={[0, 6]}
            ticks={[0, 2, 4, 6]}
            tickLabels={i === 0}
            tickLen={15}
            tickPad={8}
            tickFont={32}
            cats={KETONES}
            firstCat={47}
            catStep={101}
            catTick={17}
            catOff={44}
            catFont={31}
            barW={30}
            gap={5}
            colors={twoCols}
            series={[al, fa]}
            r={4.4}
            sig={sg}
          />
        </g>
      ))}
      <YLabel x={222} y={1562} size={32}>Concentration (mM)</YLabel>
      <Legend
        x={2189}
        ys={[1297, 1356]}
        w={47}
        h={25}
        colors={twoCols}
        labels={[<tspan fontStyle="italic">Ad libitum</tspan>, "Fast"]}
        tx={2262}
        size={34}
      />

      {/* ---------- F ---------- */}
      <text x={1008} y={1932} textAnchor="middle" fontSize={39}>Spleen</text>
      <text x={1409} y={1928} textAnchor="middle" fontSize={39}>Liver</text>
      <BarPanel
        axisX={837}
        xEnd={1152}
        y0={2253}
        y1={1945}
        domain={[3, 9]}
        ticks={[3, 4, 5, 6, 7, 8, 9]}
        tickLabels
        tickLen={12}
        tickPad={7}
        tickFont={34}
        cats={F_CATS}
        catDx={[0, -5]}
        firstCat={77}
        catStep={162}
        catTick={12}
        catOff={47}
        catFont={35}
        barW={48}
        gap={9}
        colors={twoCols}
        series={[F_SPLEEN_WT, F_SPLEEN_KO]}
        r={3.8}
      />
      <BarPanel
        axisX={1249}
        xEnd={1567}
        y0={2253}
        y1={1945}
        domain={[3, 9]}
        ticks={[3, 4, 5, 6, 7, 8, 9]}
        tickLen={12}
        cats={F_CATS}
        catDx={[-10, -9]}
        firstCat={77.5}
        catStep={162.5}
        catTick={12}
        catOff={47}
        catFont={35}
        barW={48}
        gap={9}
        colors={twoCols}
        series={[F_LIVER_WT, F_LIVER_KO]}
        r={3.8}
      />
      <YLabel x={759} y={2098} size={37}>{logLabel(23, 9)}</YLabel>
      <Legend
        x={1565}
        ys={[1893, 1943]}
        w={33}
        h={21}
        colors={twoCols}
        labels={[
          "WT",
          <>
            <tspan fontStyle="italic">Hmgcs2</tspan>
            <tspan dy={-15} fontSize={26}>
              +/-
            </tspan>
          </>,
        ]}
        tx={1621}
        size={37}
      />

      {/* ---------- G ---------- */}
      <text x={11} y={2370} fontWeight="bold" fontSize={48}>Experiment 1</text>
      <text x={11} y={2934} fontWeight="bold" fontSize={48}>Experiment 2</text>
      {g1.map(([ser, sg, cats], i) => (
        <g key={`G1${i}`}>
          <text x={gTitleX1[i]} y={2425} textAnchor="middle" fontSize={41}>
            {gTitle(i)}
          </text>
          <BarPanel
            axisX={GAX[i]}
            xEnd={GEND[i]}
            y0={2850}
            y1={2476.5}
            domain={[3, 8]}
            ticks={[3, 4, 5, 6, 7, 8]}
            tickLabels={i === 0}
            tickLen={13}
            tickPad={6}
            tickFont={33}
            cats={cats}
            catDx={G_LABEL_DX[i]}
            firstCat={GFIRST[i]}
            catStep={GSTEP[i]}
            catTick={16}
            catOff={42}
            catFont={36}
            barW={34}
            gap={6.5}
            colors={gCols}
            series={ser}
            r={4.2}
            sig={sg}
            sigPair={[2, 3]}
            sigSpan={[-0.25, 0.15]}
          />
        </g>
      ))}
      {g2.map(([ser, sg, cats], i) => (
        <g key={`G2${i}`}>
          <text x={gTitleX2[i]} y={2977} textAnchor="middle" fontSize={41}>
            {gTitle(i)}
          </text>
          <BarPanel
            axisX={GAX[i]}
            xEnd={GEND[i]}
            y0={3392}
            y1={3026}
            domain={[3, 8]}
            ticks={[3, 4, 5, 6, 7, 8]}
            tickLabels={i === 0}
            tickLen={13}
            tickPad={6}
            tickFont={33}
            cats={cats}
            catDx={G_LABEL_DX[i]}
            firstCat={GFIRST[i]}
            catStep={GSTEP[i]}
            catTick={16}
            catOff={43}
            catFont={36}
            barW={34}
            gap={6.5}
            colors={gCols}
            series={ser}
            r={4.2}
            sig={sg}
            sigPair={[2, 3]}
            sigSpan={[-0.25, 0.15]}
          />
        </g>
      ))}
      <YLabel x={252} y={2636} size={36}>{logLabel(22, 9)}</YLabel>
      <YLabel x={252} y={3180} size={36}>{logLabel(22, 9)}</YLabel>
      <Legend
        x={2104}
        ys={[2394, 2494, 2594, 2694]}
        w={47}
        h={36}
        colors={gCols}
        labels={["UT", "bOHB", "FQ", "FQ + bOHB"]}
        tx={2158}
        size={39}
      />
    </svg>
  );
}
